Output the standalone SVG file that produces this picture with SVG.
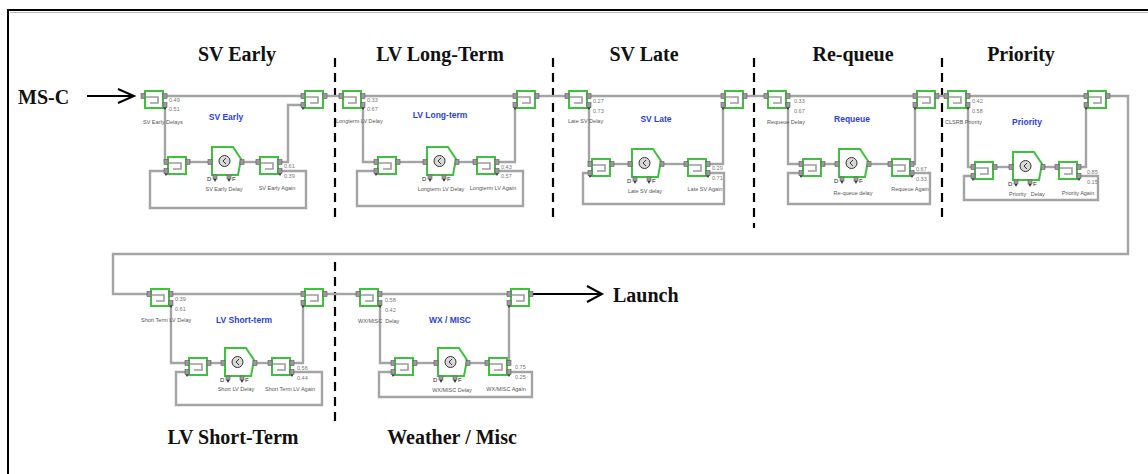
<svg xmlns="http://www.w3.org/2000/svg" width="1148" height="474" viewBox="0 0 1148 474">
<style>
.ln{fill:none;stroke:#a4a4a4;stroke-width:2.4}
.blk{fill:#fff;stroke:#3ec23e;stroke-width:2}
.ico{fill:none;stroke:#9c9c9c;stroke-width:1.6}
.cn{fill:#9a9a9a;stroke:#5a5a5a;stroke-width:0.6}
.tri{fill:#333}
.ttl{font-family:"Liberation Serif",serif;font-weight:bold;font-size:20px;fill:#111}
.blue{font-family:"Liberation Sans",Arial,sans-serif;font-weight:bold;font-size:8.5px;fill:#2b3fe0;text-anchor:middle}
.sm{font-family:"Liberation Sans",Arial,sans-serif;font-size:5.5px;fill:#555}
.mid{text-anchor:middle}
.val{font-family:"Liberation Sans",Arial,sans-serif;font-size:5.5px;fill:#777}
.df{font-family:"Liberation Sans",Arial,sans-serif;font-size:6px;fill:#222}
.dash{stroke:#000;stroke-width:2.2;stroke-dasharray:9 6;fill:none}
.arr{stroke:#000;stroke-width:2;fill:none}
</style>
<defs>
<g id="split">
<rect class="blk" x="0" y="0" width="18" height="17"/>
<path class="ico" d="M1,6 H13 V12 H5"/>
<rect class="cn" x="-4" y="2.5" width="4" height="5"/>
<rect class="cn" x="18" y="2.5" width="4" height="5"/>
<rect class="cn" x="18" y="11.5" width="4" height="5"/>
<path class="tri" d="M18.5,16.5 H21.5 L20,19 Z"/>
</g>
<g id="merge">
<rect class="blk" x="0" y="0" width="18" height="17"/>
<path class="ico" d="M1,6 H13 V12 H5"/>
<rect class="cn" x="-4" y="2.5" width="4" height="5"/>
<rect class="cn" x="-4" y="11.5" width="4" height="5"/>
<rect class="cn" x="18" y="2.5" width="4" height="5"/>
<path class="tri" d="M-3.5,16.5 H-0.5 L-2,19 Z"/>
</g>
<g id="delay">
<path class="blk" d="M0,0 H21 L29,12 L26,28 H0 Z"/>
<circle cx="12.5" cy="14" r="5.5" fill="#d8d8d8" stroke="#333" stroke-width="1"/>
<path d="M14,11 L11,14 L14,17" fill="none" stroke="#333" stroke-width="1"/>
<rect class="cn" x="-4" y="12.5" width="4" height="5"/>
<rect class="cn" x="28" y="12.5" width="4" height="5"/>
<rect class="cn" x="1" y="28" width="4" height="4"/>
<rect class="cn" x="15" y="28" width="4" height="4"/>
<path class="tri" d="M1.5,32 H4.5 L3,35 Z M15.5,32 H18.5 L17,35 Z"/>
<text class="df" x="-5" y="34">D</text>
<text class="df" x="20" y="34">F</text>
</g>
</defs>

<g id="frame">
<path d="M8,474 V10 H1148" stroke="#000" stroke-width="2" fill="none"/>
<path d="M10,12.5 H1148" stroke="#bbb" stroke-width="1" fill="none"/>
</g>

<g id="dividers">
<path class="dash" d="M335,58 V220"/>
<path class="dash" d="M553,58 V220"/>
<path class="dash" d="M754,58 V228"/>
<path class="dash" d="M942,58 V222"/>
<path class="dash" d="M335,262 V426"/>
</g>

<g id="titles">
<text class="ttl" x="237" y="61" text-anchor="middle">SV Early</text>
<text class="ttl" x="440" y="61" text-anchor="middle">LV Long-Term</text>
<text class="ttl" x="644" y="61" text-anchor="middle">SV Late</text>
<text class="ttl" x="853" y="61" text-anchor="middle">Re-queue</text>
<text class="ttl" x="1021" y="61" text-anchor="middle">Priority</text>
<text class="ttl" x="233" y="444" text-anchor="middle">LV Short-Term</text>
<text class="ttl" x="452" y="444" text-anchor="middle">Weather / Misc</text>
<text class="ttl" x="18" y="104">MS-C</text>
<text class="ttl" x="613" y="302">Launch</text>
</g>

<g id="connectors">
<path class="arr" d="M87,96 H133"/>
<path class="arr" d="M118,89 L134,96 L118,103"/>
<!-- SV Early -->
<path class="ln" d="M167,96 H301"/>
<path class="ln" d="M165,107 V162 H166"/>
<path class="ln" d="M190,162 H208"/>
<path class="ln" d="M244,162 H256"/>
<path class="ln" d="M282,162 H288 V105 H301"/>
<path class="ln" d="M282,171 H306 V208 H150 V171 H164"/>
<path class="ln" d="M327,96 H339"/>
<!-- LV Long-term -->
<path class="ln" d="M365,96 H513"/>
<path class="ln" d="M363,107 V162 H374"/>
<path class="ln" d="M400,162 H423"/>
<path class="ln" d="M459,162 H473"/>
<path class="ln" d="M499,162 H515 V108"/>
<path class="ln" d="M499,171 H523 V206 H357 V171 H374"/>
<path class="ln" d="M539,96 H565"/>
<!-- SV Late -->
<path class="ln" d="M591,96 H721"/>
<path class="ln" d="M589,107 V164 H590"/>
<path class="ln" d="M614,164 H628"/>
<path class="ln" d="M664,164 H684"/>
<path class="ln" d="M710,164 H723 V108"/>
<path class="ln" d="M710,173 H724 V204 H583 V173 H588"/>
<path class="ln" d="M747,96 H764"/>
<!-- Requeue -->
<path class="ln" d="M790,96 H913"/>
<path class="ln" d="M788,107 V164 H799"/>
<path class="ln" d="M825,164 H835"/>
<path class="ln" d="M871,164 H888"/>
<path class="ln" d="M914,164 H915 V108"/>
<path class="ln" d="M914,173 H930 V204 H788 V173 H799"/>
<path class="ln" d="M939,96 H944"/>
<!-- Priority -->
<path class="ln" d="M970,96 H1084"/>
<path class="ln" d="M968,107 V167 H971"/>
<path class="ln" d="M997,167 H1009"/>
<path class="ln" d="M1045,167 H1055"/>
<path class="ln" d="M1081,167 H1086 V108"/>
<path class="ln" d="M1081,176 H1098 V200 H964 V176 H971"/>
<path class="ln" d="M1110,96 H1128 V254 H113 V294 H147"/>
<!-- LV Short-term -->
<path class="ln" d="M173,294 H301"/>
<path class="ln" d="M171,305 V363 H185"/>
<path class="ln" d="M211,363 H221"/>
<path class="ln" d="M257,363 H268"/>
<path class="ln" d="M294,363 H303 V306"/>
<path class="ln" d="M294,372 H322 V405 H176 V372 H185"/>
<path class="ln" d="M327,294 H356"/>
<!-- WX / MISC -->
<path class="ln" d="M382,294 H507"/>
<path class="ln" d="M380,305 V363 H391"/>
<path class="ln" d="M417,363 H434"/>
<path class="ln" d="M470,363 H485"/>
<path class="ln" d="M509,363 V306"/>
<path class="ln" d="M511,372 H532 V397 H379 V372 H391"/>
<path class="arr" d="M533,294 H601"/>
<path class="arr" d="M587,286 L602,294 L587,302"/>
</g>

<!-- Module 1: SV Early -->
<g id="sv-early-split"><use href="#split" x="145" y="91"/>
<text class="val" x="169" y="102">0.49</text><text class="val" x="169" y="111">0.51</text>
<text class="sm" x="143" y="124">SV Early Delays</text></g>
<g id="sv-early-label"><text class="blue" x="226" y="120">SV Early</text></g>
<g id="sv-early-merge"><use href="#merge" x="168" y="157"/></g>
<g id="sv-early-delay"><use href="#delay" x="212" y="147"/><text class="sm mid" x="224" y="191">SV Early Delay</text></g>
<g id="sv-early-again"><use href="#split" x="260" y="157"/>
<text class="val" x="284" y="168">0.61</text><text class="val" x="284" y="178">0.39</text>
<text class="sm mid" x="277" y="190">SV Early Again</text></g>
<g id="sv-early-out"><use href="#merge" x="305" y="91"/></g>

<!-- Module 2: LV Long-term -->
<g id="lv-long-split"><use href="#split" x="343" y="91"/>
<text class="val" x="367" y="102">0.33</text><text class="val" x="367" y="111">0.67</text>
<text class="sm" x="336" y="123">Longterm LV Delay</text></g>
<g id="lv-long-label"><text class="blue" x="440" y="118">LV Long-term</text></g>
<g id="lv-long-merge"><use href="#merge" x="378" y="157"/></g>
<g id="lv-long-delay"><use href="#delay" x="427" y="147"/><text class="sm mid" x="441" y="191">Longterm LV Delay</text></g>
<g id="lv-long-again"><use href="#split" x="477" y="157"/>
<text class="val" x="501" y="169">0.43</text><text class="val" x="501" y="178">0.57</text>
<text class="sm mid" x="493" y="190">Longterm LV Again</text></g>
<g id="lv-long-out"><use href="#merge" x="517" y="91"/></g>

<!-- Module 3: SV Late -->
<g id="sv-late-split"><use href="#split" x="569" y="91"/>
<text class="val" x="593" y="103">0.27</text><text class="val" x="593" y="113">0.73</text>
<text class="sm" x="568" y="123">Late SV Delay</text></g>
<g id="sv-late-label"><text class="blue" x="656" y="122">SV Late</text></g>
<g id="sv-late-merge"><use href="#merge" x="592" y="159"/></g>
<g id="sv-late-delay"><use href="#delay" x="632" y="149"/><text class="sm mid" x="645" y="193">Late SV delay</text></g>
<g id="sv-late-again"><use href="#split" x="688" y="159"/>
<text class="val" x="712" y="170">0.29</text><text class="val" x="712" y="180">0.71</text>
<text class="sm mid" x="705" y="191">Late SV Again</text></g>
<g id="sv-late-out"><use href="#merge" x="725" y="91"/></g>

<!-- Module 4: Requeue -->
<g id="requeue-split"><use href="#split" x="768" y="91"/>
<text class="val" x="794" y="103">0.33</text><text class="val" x="794" y="113">0.67</text>
<text class="sm" x="767" y="124">Requeue Delay</text></g>
<g id="requeue-label"><text class="blue" x="852" y="122">Requeue</text></g>
<g id="requeue-merge"><use href="#merge" x="803" y="159"/></g>
<g id="requeue-delay"><use href="#delay" x="839" y="149"/><text class="sm mid" x="853" y="195">Re-queue delay</text></g>
<g id="requeue-again"><use href="#split" x="892" y="159"/>
<text class="val" x="916" y="171">0.67</text><text class="val" x="916" y="181">0.33</text>
<text class="sm mid" x="910" y="191">Requeue Again</text></g>
<g id="requeue-out"><use href="#merge" x="917" y="91"/></g>

<!-- Module 5: Priority -->
<g id="priority-split"><use href="#split" x="948" y="91"/>
<text class="val" x="972" y="103">0.42</text><text class="val" x="972" y="113">0.58</text>
<text class="sm" x="945" y="124">CLSRB Priority</text></g>
<g id="priority-label"><text class="blue" x="1027" y="125">Priority</text></g>
<g id="priority-merge"><use href="#merge" x="975" y="162"/></g>
<g id="priority-delay"><use href="#delay" x="1013" y="152"/><text class="sm mid" x="1027" y="196" xml:space="preserve">Priority   Delay</text></g>
<g id="priority-again"><use href="#split" x="1059" y="162"/>
<text class="val" x="1087" y="174">0.85</text><text class="val" x="1087" y="184">0.15</text>
<text class="sm mid" x="1078" y="195">Priority Again</text></g>
<g id="priority-out"><use href="#merge" x="1088" y="91"/></g>

<!-- Module 6: LV Short-term -->
<g id="lv-short-split"><use href="#split" x="151" y="289"/>
<text class="val" x="175" y="301">0.39</text><text class="val" x="175" y="311">0.61</text>
<text class="sm" x="141" y="322">Short Term LV Delay</text></g>
<g id="lv-short-label"><text class="blue" x="244" y="323">LV Short-term</text></g>
<g id="lv-short-merge"><use href="#merge" x="189" y="358"/></g>
<g id="lv-short-delay"><use href="#delay" x="225" y="348"/><text class="sm mid" x="236" y="391">Short LV Delay</text></g>
<g id="lv-short-again"><use href="#split" x="272" y="358"/>
<text class="val" x="297" y="370">0.56</text><text class="val" x="297" y="380">0.44</text>
<text class="sm mid" x="290" y="391">Short Term LV Again</text></g>
<g id="lv-short-out"><use href="#merge" x="305" y="289"/></g>

<!-- Module 7: WX / MISC -->
<g id="wx-split"><use href="#split" x="360" y="289"/>
<text class="val" x="385" y="302">0.58</text><text class="val" x="385" y="312">0.42</text>
<text class="sm" x="358" y="323" xml:space="preserve">WX/MISC  Delay</text></g>
<g id="wx-label"><text class="blue" x="450" y="323">WX / MISC</text></g>
<g id="wx-merge"><use href="#merge" x="395" y="358"/></g>
<g id="wx-delay"><use href="#delay" x="438" y="348"/><text class="sm mid" x="452" y="392">WX/MISC Delay</text></g>
<g id="wx-again"><use href="#split" x="489" y="358"/>
<text class="val" x="515" y="369">0.75</text><text class="val" x="515" y="379">0.25</text>
<text class="sm mid" x="506" y="391">WX/MISC Again</text></g>
<g id="wx-out"><use href="#merge" x="511" y="289"/></g>
</svg>
